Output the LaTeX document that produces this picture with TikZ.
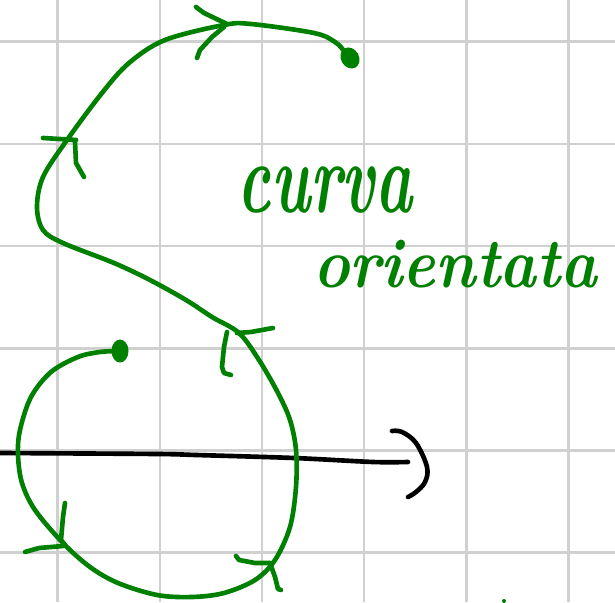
\documentclass[tikz,border=0pt]{standalone}
\usepackage{tikz}
\usetikzlibrary{arrows.meta,calc}
\definecolor{pen}{RGB}{0,128,0}
\definecolor{paper}{RGB}{208,208,208}
\definecolor{ink}{RGB}{0,0,0}
\tikzset{
  gridline/.style={draw=paper,line width=1.8pt},
  stroke/.style={draw=#1,line width=3.3pt,line cap=round,line join=round},
  stroke/.default=pen,
  tick/.style={stroke=pen},
  blob/.style={fill=pen},
  word/.style={text=pen,font=\fontsize{#1}{#1}\selectfont\bfseries\itshape,inner sep=0pt,anchor=base},
  word/.default=50,
}

\begin{document}
\begin{tikzpicture}[x=0.025cm,y=-0.025cm]
  \fill[white] (0,0) rectangle (615,602);
  \useasboundingbox (0,0) rectangle (615,602);
  % squared paper
  \foreach \k in {0,...,5} {
    \draw[gridline] ({57.6+102.2*\k},0) -- ({57.6+102.2*\k},602);
    \draw[gridline] (0,{41.7+102.2*\k}) -- (615,{41.7+102.2*\k});
  }

  % real axis
  \coordinate (axl) at (0,453);
  \coordinate (axr) at (408,462);
  \draw[stroke=ink] plot[smooth,tension=0.5] coordinates {(axl) (157,454) (196,455) (294,458) (373,462) (axr)};
  \draw[stroke=ink] plot[smooth,tension=0.6] coordinates {(392,431) (402,432) (416,443) (427,467) (425,482) (416,492) (408,497)};

  % the oriented curve
  \coordinate (start) at (120,351);
  \coordinate (finish) at (350,58);
  \draw[stroke] plot[smooth,tension=0.55] coordinates {
    (start) (100,352) (78,357) (51,372) (31,397) (20,430) (18,455) (22,483)
    (35,510) (63,543) (90,567) (118,583) (157,595) (192,597) (224,593)
    (255,580) (275,560) (290,527) (296,487) (296,450) (290,420) (278,393)
    (259,360) (239,333) (212,317) (186,300) (150,280) (114,263) (63,243)
    (43,230) (37,207) (43,177) (67,140) (102,93) (129,63) (165,40)
    (224,25) (251,24) (314,33) (335,42) (345,52) (finish)};
  \fill[blob] (start) ellipse [x radius=8.5,y radius=11.5];
  \fill[blob,rotate around={30:(finish)}] (finish) ellipse [x radius=9,y radius=11];

  % direction marks
  \draw[tick] (196,7) -- (204,13) -- (227,24);
  \draw[tick] (197,58) -- (200,50) -- (212,37) -- (224,27);
  \draw[tick] (43,138) -- (76,140);
  \draw[tick] (75,142) -- (76,163) -- (84,177);
  \draw[tick] (65,503) -- (63,517) -- (61,540) -- (65,545);
  \draw[tick] (25,552) -- (39,548) -- (63,546);
  \draw[tick] (236,556) -- (239,560) -- (255,563) -- (270,563);
  \draw[tick] (270,563) -- (275,577) -- (278,589) -- (281,590);
  \draw[tick] (273,328) -- (251,332) -- (237,333);
  \draw[tick] (227,332) -- (224,347) -- (222,367) -- (224,373) -- (231,375);
  \fill[blob] (504,601) circle (2);

  % label
  \node[word=72] (curva) at (325,213) {\scalebox{0.62}[1]{curva}};
  \node[word] (orient) at (455,287) {\scalebox{0.88}[1]{orientata}};
\end{tikzpicture}
\end{document}
